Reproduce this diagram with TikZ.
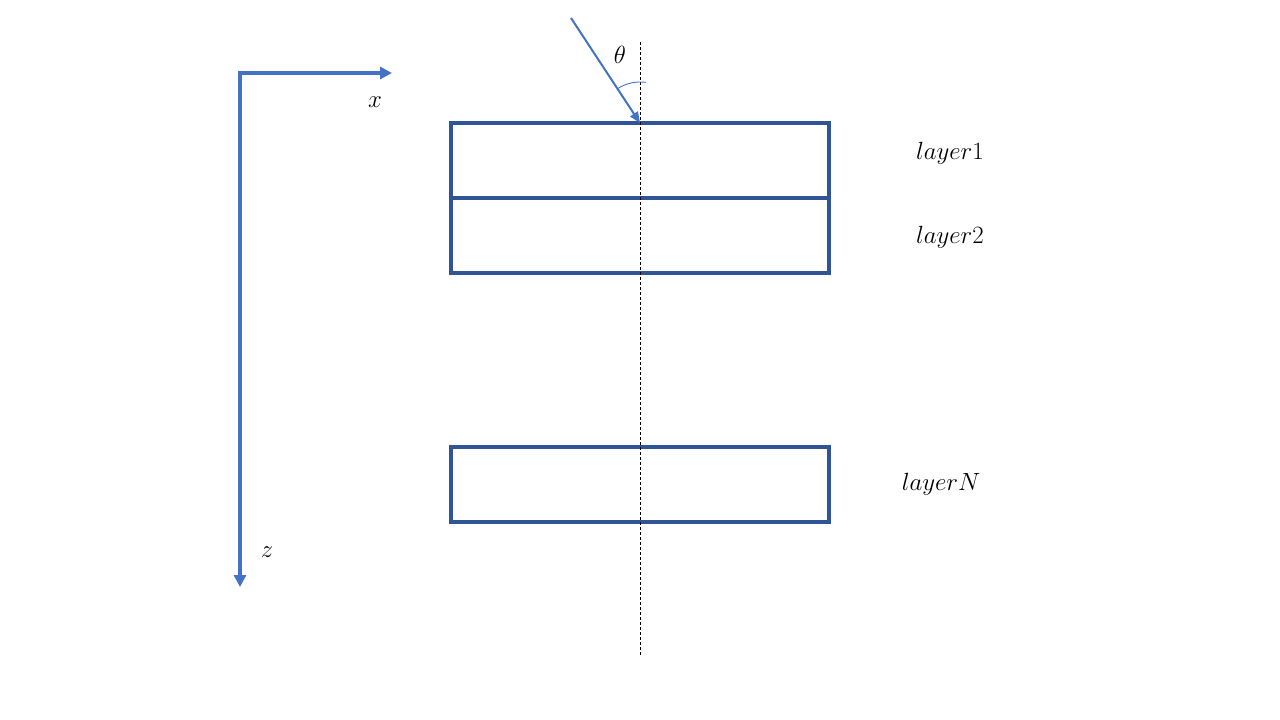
\documentclass[tikz,border=0pt]{standalone}
\usetikzlibrary{arrows.meta}
\definecolor{axisblue}{HTML}{4472C4}
\definecolor{boxblue}{HTML}{2F5597}
\begin{document}
\begin{tikzpicture}[x=1pt,y=-1pt,
  axis/.style={draw=axisblue,line width=3.5pt,-{Triangle[length=12pt,width=12pt]}},
  layerbox/.style={draw=boxblue,line width=3.75pt,minimum width=378pt,minimum height=75pt,inner sep=0pt,outer sep=0pt,anchor=north west},
  lab/.style={font=\fontsize{24}{28}\selectfont,inner sep=0pt}]
\useasboundingbox (0,0) rectangle (1280,720);
% axes
\coordinate (o) at (240,73);
\coordinate (xe) at (392,73);
\coordinate (ze) at (240,587);
\draw[axis] ([xshift=-1.75pt]o) -- (xe);
\draw[axis] (o) -- (ze);
\node[lab] (xl) at (375,102) {$x$};
\node[lab] (zl) at (267,552) {$z$};
% layers
\node[layerbox] (l1) at (451,123) {};
\node[layerbox] (l2) at (451,198) {};
\node[layerbox] (lN) at (451,447) {};
\node[lab] (t1) at (950,153) {$layer1$};
\node[lab] (t2) at (950,237) {$layer2$};
\node[lab] (tN) at (941,484) {$layerN$};
% normal
\coordinate (nt) at (640,42);
\coordinate (nb) at (640,656);
\draw[line width=0.9pt,dash pattern=on 3pt off 2pt] (nt) -- (nb);
% incident ray
\coordinate (src) at (571,18);
\coordinate (hit) at (640,123);
\draw[draw=axisblue,line width=2pt,-{Triangle[length=11pt,width=9pt]}] (src) -- (hit);
\draw[axisblue,line width=0.9pt] (hit) ++(-82:41) arc[start angle=-82,end angle=-124,radius=41];
\node[lab] (th) at (620,55) {$\theta$};
\end{tikzpicture}
\end{document}
